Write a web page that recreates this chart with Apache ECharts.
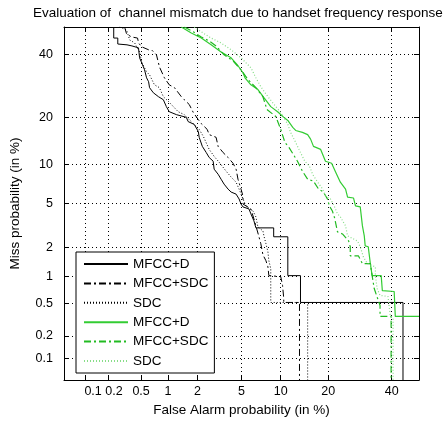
<!DOCTYPE html>
<html>
<head>
<meta charset="UTF-8">
<title>DET</title>
<script src="https://cdn.jsdelivr.net/npm/echarts@6.0.0/dist/echarts.min.js"></script>
</head>
<body style="margin:0">
<div id="main" style="width:444px;height:422px;"></div>
<script type="text/javascript">
// tick labels (in %)
var ticks = [0.1, 0.2, 0.5, 1, 2, 5, 10, 20, 40];

// false alarm / miss probabilities in %
var kD_fa   = [0.233,0.233,0.262,0.262,0.34,0.39,0.466,0.48,0.52,0.548,0.578,0.61,0.625,0.69,0.787,0.89,0.96,1.03,1.23,1.55,1.62,1.86,2.04,2.08,2.23,2.43,2.59,2.82,2.88,3.13,3.33,3.54,3.84,4.08,4.5,4.77,4.95,5.14,5.75,5.96,6.3,6.53,8.9,8.9,11.2,11.2,13.6,13.6,44.1,44.1];
var kD_miss = [50,45.9,45.9,43.7,43.4,43.0,42.3,38.7,36.2,34.5,31.8,30.5,28.6,27.0,25.8,24.9,22.9,21.5,20.7,20.0,18.9,18.2,16.5,15.2,13.3,12.1,11.2,10.55,9.26,8.5,7.8,7.16,6.54,6.2,5.97,5.45,4.95,4.68,4.5,4.08,3.54,3.06,3.06,2.53,2.53,1.025,1.025,0.513,0.513,0.05];

var kS_fa   = [0.318,0.336,0.386,0.454,0.467,0.506,0.609,0.657,0.747,0.787,0.806,0.914,1.03,1.17,1.38,1.48,1.66,1.82,2.04,2.18,2.48,2.59,3.0,3.13,3.47,3.84,4.24,4.5,4.67,4.95,5.14,5.14,5.96,6.3,6.9,7.13,7.4,7.8,8.07,8.2,10.0,10.3,10.5,10.5,13.4,13.4];
var kS_miss = [50,47.4,46.3,45.9,44.1,42.7,41.6,41.6,39.8,36.9,35.5,31.8,29.5,28.6,25.8,24.9,23.5,21.3,19.4,18.4,17.0,15.8,15.2,13.3,12.1,11.2,10.2,9.26,7.8,6.54,5.75,4.95,4.5,3.68,2.53,2.17,1.69,1.47,1.27,1.025,1.0,0.80,0.57,0.513,0.513,0.05];

var kC_fa   = [0.276,0.336,0.366,0.42,0.48,0.506,0.578,0.625,0.71,0.806,0.89,1.01,1.14,1.28,1.48,1.66,1.82,2.08,2.28,2.59,2.88,3.19,3.69,4.08,4.5,4.77,5.14,5.44,6.2,6.53,6.77,7.4,7.53,7.8,8.07,8.2,8.47,8.47,15.1,15.1];
var kC_miss = [50,48.9,45.2,44.1,40.8,37.3,33.8,32.8,29.5,28.6,25.8,24.4,22.9,21.5,20.7,19.4,18.4,17.0,15.4,12.7,11.4,10.4,8.95,8.1,7.4,6.54,5.45,4.77,4.32,3.84,3.12,2.87,2.58,2.17,1.81,1.47,1.22,0.513,0.513,0.05];

var gD_fa   = [1.38,1.74,2.18,2.70,3.33,4.08,4.67,5.14,5.34,5.96,6.77,7.53,8.47,9.5,10.5,11.2,12.1,12.65,14.0,15.1,15.75,16.4,18.1,19.3,20.9,22.0,23.3,24.8,25.4,27.2,27.8,29.3,30.0,30.6,30.9,31.9,32.6,33.2,36.3,36.7,40.9,41.3,50];
var gD_miss = [50,47.8,45.9,43.4,40.8,38.7,35.9,33.5,31.8,29.5,28.0,25.5,22.9,21.5,20.0,19.2,17.5,16.75,16.3,15.8,14.8,13.3,12.7,10.55,10.2,8.8,7.4,6.54,5.65,5.55,4.77,4.68,3.19,2.58,2.07,2.03,1.37,1.025,1.025,0.70,0.685,0.35,0.35];

var gS_fa   = [1.48,1.82,2.18,2.59,3.0,3.54,4.24,4.95,5.65,6.53,7.4,7.93,9.22,10.0,10.7,11.4,12.3,13.0,14.0,15.1,16.4,17.6,18.8,19.8,20.3,21.1,21.7,22.5,23.9,25.7,26.2,26.2,28.7,30.0,32.6,33.2,33.9,35.9,35.9,39.8,39.8];
var gS_miss = [50,48.2,46.3,44.8,43.0,39.8,37.6,34.5,31.2,28.6,25.8,22.1,20.2,17.0,14.1,13.1,11.6,10.55,8.95,7.8,7.54,6.54,6.2,5.45,4.77,4.32,3.76,2.81,2.69,2.31,2.03,1.65,1.65,1.37,1.37,1.025,0.74,0.473,0.35,0.35,0.05];

var gC_fa   = [1.86,2.18,2.70,3.33,4.08,4.95,5.96,6.53,7.13,8.07,9.22,10.0,11.2,11.7,12.65,13.6,14.5,15.5,16.2,17.4,18.6,19.3,20.6,21.7,22.5,23.3,24.8,25.4,28.4,29.3,30.3,31.6,34.3,34.3,34.9,35.9,38.7,39.5,40.5,40.5];
var gC_miss = [50,48.2,45.9,44.1,41.6,38.7,35.2,31.8,28.9,25.8,22.9,21.3,18.2,16.3,14.1,12.1,10.55,9.74,8.5,7.4,6.54,5.75,5.45,4.68,4.08,3.84,3.19,2.58,2.31,2.03,1.61,1.37,1.27,1.025,0.74,0.62,0.60,0.36,0.33,0.05];

// inverse normal cdf (Acklam) -> DET axis scale
function probit(p){
	var a=[-3.969683028665376e+01,2.209460984245205e+02,-2.759285104469687e+02,1.383577518672690e+02,-3.066479806614716e+01,2.506628277459239e+00];
	var b=[-5.447609879822406e+01,1.615858368580409e+02,-1.556989798598866e+02,6.680131188771972e+01,-1.328068155288572e+01];
	var c=[-7.784894002430293e-03,-3.223964580411365e-01,-2.400758277161838e+00,-2.549732539343734e+00,4.374664141464968e+00,2.938163982698783e+00];
	var d=[7.784695709041462e-03,3.224671290700398e-01,2.445134137142996e+00,3.754408661907416e+00];
	var pl=0.02425, q, r;
	if(p<pl){
		q=Math.sqrt(-2*Math.log(p));
		return (((((c[0]*q+c[1])*q+c[2])*q+c[3])*q+c[4])*q+c[5])/((((d[0]*q+d[1])*q+d[2])*q+d[3])*q+1);
	}
	if(p<=1-pl){
		q=p-0.5; r=q*q;
		return (((((a[0]*r+a[1])*r+a[2])*r+a[3])*r+a[4])*r+a[5])*q/(((((b[0]*r+b[1])*r+b[2])*r+b[3])*r+b[4])*r+1);
	}
	q=Math.sqrt(-2*Math.log(1-p));
	return -(((((c[0]*q+c[1])*q+c[2])*q+c[3])*q+c[4])*q+c[5])/((((d[0]*q+d[1])*q+d[2])*q+d[3])*q+1);
}
function pts(fa, miss){
	var out=[];
	for(var i=0;i<fa.length;i++){
		out.push([probit(fa[i]/100), probit(miss[i]/100)]);
	}
	return out;
}

var lo = probit(0.0005);
var hi = 0;
var tickZ = ticks.map(function(t){ return probit(t/100); });
function tickText(v){
	for(var i=0;i<ticks.length;i++){
		if(Math.abs(tickZ[i]-v)<1e-6) return ticks[i];
	}
	return '';
}
var font = "'Liberation Sans', Arial, sans-serif";
var black = '#000';

var myChart = echarts.init(document.getElementById('main'));

function mkAxis(pos, main){
	var ax = {
		type:'value', min:lo, max:hi, position:pos,
		axisLine:{show:true, onZero:false, lineStyle:{color:black, width:1}},
		axisTick:{show:true, inside:true, length:5, customValues:tickZ, lineStyle:{color:black}},
		axisLabel:{show:false},
		splitLine:{show:false}
	};
	if(main){
		ax.axisLabel = {show:true, customValues:tickZ, color:black, fontSize:12.5, fontFamily:font, margin:5};
		ax.splitLine = {show:true, lineStyle:{color:black, width:1, type:[1,3]}};
	}
	return ax;
}

var xMain = mkAxis('bottom', true);
xMain.axisLabel.formatter = function(v){
	var t = tickText(v);
	if(t===0.1) return '{a|0.1}';
	if(t===0.2) return '{b|0.2}';
	return String(t);
};
xMain.axisLabel.rich = {
	a:{padding:[0,0,0,15], fontSize:12.5, fontFamily:font, color:black},
	b:{padding:[0,0,0,11], fontSize:12.5, fontFamily:font, color:black}
};
xMain.name = 'False Alarm probability (in %)';
xMain.nameLocation = 'middle';
xMain.nameGap = 22;
xMain.nameTextStyle = {color:black, fontSize:13.5, fontFamily:font};

var yMain = mkAxis('left', true);
yMain.axisLabel.formatter = function(v){ return String(tickText(v)); };
yMain.axisLabel.margin = 11;
yMain.name = 'Miss probability (in %)';
yMain.nameLocation = 'middle';
yMain.nameGap = 42;
yMain.nameTextStyle = {color:black, fontSize:13.5, fontFamily:font};

function line(name, fa, miss, color, type, width){
	return {
		name:name, type:'line', xAxisIndex:0, yAxisIndex:0,
		data:pts(fa, miss), symbol:'none', silent:true,
		lineStyle:{color:color, width:width, type:type},
		itemStyle:{color:color}
	};
}

var dashDot = [7,3,2,3];
var dots = [1,2];

myChart.setOption({
	animation:false,
	textStyle:{fontFamily:font},
	title:{
		text:'Evaluation of  channel mismatch due to handset frequency response',
		left:33, top:6, padding:0,
		textStyle:{color:black, fontSize:13.5, fontWeight:'normal', fontFamily:font}
	},
	grid:{left:62, right:25, top:27, bottom:40, containLabel:false},
	legend:{
		orient:'vertical', left:76, top:252,
		padding:[5,6,5,7], itemGap:5.4, itemWidth:44, itemHeight:12,
		backgroundColor:'#fff', borderColor:black, borderWidth:1,
		selectedMode:false,
		itemStyle:{opacity:0},
		textStyle:{color:black, fontSize:13.5, fontFamily:font},
		formatter:function(name){ return name.split(':')[1]; },
		data:['k1:MFCC+D','k2:MFCC+SDC','k3:SDC','g1:MFCC+D','g2:MFCC+SDC','g3:SDC']
	},
	xAxis:[xMain, mkAxis('top', false)],
	yAxis:[yMain, mkAxis('right', false)],
	series:[
		line('k1:MFCC+D', kD_fa, kD_miss, '#000', 'solid', 1),
		line('k2:MFCC+SDC', kS_fa, kS_miss, '#000', dashDot, 1),
		line('k3:SDC', kC_fa, kC_miss, '#000', dots, 1),
		line('g1:MFCC+D', gD_fa, gD_miss, '#33cc33', 'solid', 1.2),
		line('g2:MFCC+SDC', gS_fa, gS_miss, '#22bb22', dashDot, 1.2),
		line('g3:SDC', gC_fa, gC_miss, '#88dd88', dots, 1.2)
	]
});
</script>
</body>
</html>
